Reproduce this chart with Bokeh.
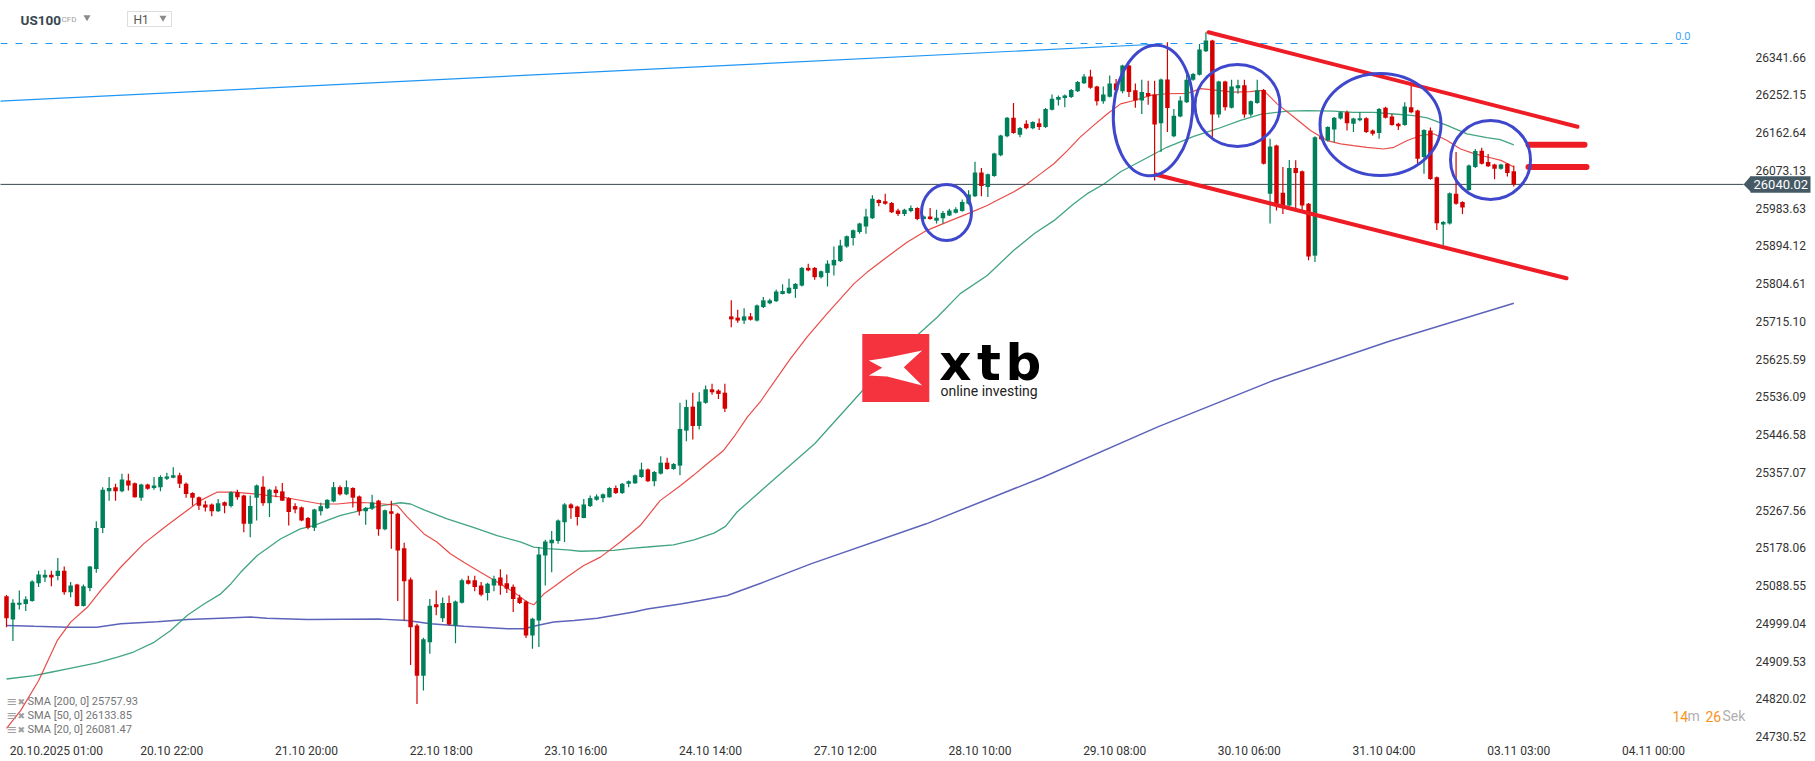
import numpy as np
from bokeh.plotting import figure
from bokeh.models import Range1d, FixedTicker, ColumnDataSource
from bokeh.core.properties import value
from bokeh.embed import file_html
from bokeh.resources import INLINE

# ---------------- data ----------------
opens = [25063,25008,25043,25045,25052,25094,25108,25114,25111,25124,
 25073,25091,25040,25083,25128,25225,25312,25322,25312,25338,
 25331,25297,25328,25320,25322,25342,25344,25350,25330,25308,
 25298,25281,25281,25265,25286,25277,25310,25302,25235,25297,
 25323,25284,25316,25312,25296,25277,25274,25249,25226,25265,
 25272,25288,25322,25305,25320,25300,25265,25271,25290,25222,
 25265,25259,25177,25103,24994,24875,24954,25044,25011,25047,
 24994,25048,25101,25101,25089,25071,25089,25108,25094,25086,
 25060,25051,24970,25006,25160,25189,25194,25239,25281,25276,
 25249,25277,25292,25296,25298,25320,25308,25330,25331,25346,
 25364,25336,25354,25380,25365,25373,25456,25513,25467,25522,
 25554,25551,25546,25727,25724,25717,25727,25717,25749,25758,
 25763,25780,25782,25792,25800,25842,25842,25820,25830,25848,
 25858,25893,25913,25927,25940,25960,26003,26000,25996,25978,
 25970,25977,25984,25958,25964,25954,25960,25966,25973,25977,
 25994,26012,26068,26034,26060,26109,26154,26198,26158,26184,
 26173,26185,26176,26217,26241,26245,26247,26261,26280,26296,
 26272,26237,26248,26279,26261,26322,26263,26239,26257,26253,
 26185,26289,26154,26201,26235,26288,26300,26356,26381,26206,
 26284,26222,26268,26275,26206,26233,26264,26018,26132,26020,
 25990,26079,26071,25994,25871,26154,26144,26170,26196,26211,
 26184,26192,26197,26168,26162,26222,26201,26184,26181,26223,
 26215,26105,26168,26057,25945,25947,26018,25998,26027,26081,
 26120,26093,26087,26077,26089,26071]
highs = [25066,25056,25077,25063,25101,25124,25126,25124,25154,25134,
 25097,25093,25091,25135,25241,25322,25346,25330,25354,25354,
 25333,25330,25330,25346,25350,25356,25369,25356,25333,25310,
 25300,25290,25283,25294,25288,25312,25316,25304,25302,25328,
 25348,25318,25324,25332,25298,25284,25276,25251,25271,25285,
 25293,25334,25326,25338,25322,25302,25275,25304,25292,25269,
 25290,25261,25190,25108,24998,24965,25057,25077,25060,25065,
 25053,25105,25112,25112,25097,25095,25112,25127,25115,25091,
 25067,25053,25012,25180,25197,25218,25245,25284,25284,25278,
 25294,25302,25305,25307,25322,25326,25332,25338,25352,25380,
 25366,25360,25395,25392,25379,25522,25529,25546,25547,25563,
 25567,25554,25567,25765,25743,25746,25735,25755,25773,25769,
 25791,25803,25816,25806,25844,25852,25844,25836,25860,25893,
 25909,25919,25933,25949,25982,26014,26005,26018,25998,25982,
 25982,25990,25986,25966,25984,25980,25977,25982,25986,26004,
 26026,26094,26079,26066,26115,26158,26200,26233,26176,26192,
 26190,26196,26221,26253,26251,26253,26266,26285,26302,26312,
 26274,26272,26298,26290,26324,26324,26279,26288,26286,26286,
 26291,26377,26219,26249,26310,26304,26373,26401,26383,26286,
 26286,26288,26288,26288,26239,26288,26266,26148,26134,26081,
 26098,26097,26073,25996,26154,26156,26178,26200,26213,26215,
 26198,26211,26199,26170,26221,26224,26207,26186,26235,26275,
 26217,26171,26175,26059,25953,26021,26117,26000,26087,26124,
 26127,26112,26089,26089,26091,26085]
lows = [24990,24957,25032,25028,25050,25085,25097,25087,25101,25067,
 25061,25039,25039,25075,25119,25213,25290,25290,25310,25314,
 25297,25290,25316,25316,25312,25339,25343,25320,25297,25278,
 25268,25264,25253,25263,25260,25274,25292,25215,25203,25243,
 25278,25251,25298,25289,25231,25260,25241,25222,25218,25255,
 25270,25286,25302,25303,25274,25255,25233,25268,25207,25220,
 25176,25052,25006,24900,24808,24840,24927,25018,25002,24994,
 24952,25046,25091,25075,25063,25053,25075,25067,25071,25026,
 25045,24964,24939,24943,25089,25120,25188,25192,25247,25231,
 25248,25275,25290,25286,25297,25306,25306,25322,25330,25344,
 25334,25324,25352,25363,25363,25350,25431,25435,25459,25520,
 25541,25531,25500,25701,25712,25709,25717,25715,25747,25756,
 25761,25779,25780,25771,25798,25834,25814,25817,25798,25824,
 25856,25890,25895,25923,25923,25958,25988,25992,25972,25965,
 25965,25974,25955,25956,25956,25947,25947,25965,25971,25975,
 25992,26010,26012,26010,26058,26107,26152,26160,26152,26171,
 26171,26169,26174,26215,26227,26223,26245,26259,26278,26267,
 26227,26231,26246,26261,26256,26247,26222,26207,26229,26049,
 26117,26164,26152,26199,26233,26286,26298,26354,26152,26198,
 26215,26220,26255,26198,26201,26231,26087,25947,25978,25970,
 25988,25982,25974,25860,25856,26144,26142,26140,26194,26168,
 26164,26190,26162,26156,26148,26196,26179,26169,26179,26209,
 26089,26065,26051,25932,25895,25945,25992,25970,26025,26079,
 26087,26081,26052,26075,26059,26035]
closes = [25011,25048,25048,25056,25098,25115,25114,25108,25124,25073,
 25089,25040,25087,25134,25225,25316,25320,25312,25340,25326,
 25298,25328,25318,25326,25346,25347,25350,25330,25306,25297,
 25278,25274,25265,25284,25278,25310,25298,25235,25277,25326,
 25284,25316,25308,25290,25263,25269,25243,25226,25269,25277,
 25292,25322,25305,25322,25297,25265,25273,25286,25222,25267,
 25259,25172,25099,24990,24875,24961,25041,25037,25047,24996,
 25051,25101,25093,25085,25067,25093,25105,25089,25081,25057,
 25047,24970,25010,25162,25193,25197,25243,25281,25272,25251,
 25281,25296,25300,25305,25320,25308,25330,25336,25350,25364,
 25336,25358,25380,25365,25377,25460,25512,25467,25525,25554,
 25547,25543,25508,25720,25717,25727,25719,25753,25765,25765,
 25786,25787,25795,25804,25842,25836,25820,25834,25852,25861,
 25895,25917,25931,25947,25964,26006,25996,25994,25974,25970,
 25980,25984,25958,25964,25958,25961,25972,25978,25981,25998,
 26016,26068,26036,26064,26113,26156,26198,26162,26174,26173,
 26188,26176,26219,26243,26247,26251,26264,26283,26296,26269,
 26237,26253,26279,26263,26322,26259,26239,26259,26249,26182,
 26289,26221,26203,26239,26288,26302,26360,26381,26206,26284,
 26223,26272,26275,26206,26237,26263,26089,26130,25994,25990,
 26079,26067,25990,25869,26152,26147,26176,26198,26211,26185,
 26196,26197,26164,26160,26219,26198,26181,26178,26225,26211,
 26101,26169,26053,25948,25951,26019,25994,25985,26085,26119,
 26089,26083,26077,26087,26067,26040.02]

# moving averages at sample bars (bar index, price)
sma20_pts = [(0,24750),(2.2,24792),(5,24863),(7.9,24958),(10,25002),(12.6,25037),(14.7,25077),
 (17.8,25132),(21.4,25188),(25,25231),(28.2,25267),(30.2,25290),(32.8,25310),(35.4,25310),
 (38.6,25306),(43.2,25298),(49,25282),(51.6,25282),(54.2,25286),(56.2,25285),(58.8,25282),
 (60.9,25279),(62.5,25251),(65.1,25211),(67.1,25192),(69.2,25164),(71.3,25144),(73.9,25120),
 (76.5,25097),(79.1,25073),(81.2,25049),(82.2,25043),(83.8,25069),(85.3,25085),(87.4,25109),
 (90,25136),(92.6,25156),(95.7,25192),(98.8,25231),(101.9,25290),(105.1,25326),(107.1,25350),
 (109.2,25377),(111.8,25409),(113.4,25441),(115.5,25488),(117.5,25524),(122.2,25626),
 (124.8,25678),(127.9,25733),(132.1,25804),(134.2,25832),(137.3,25868),(140.4,25903),
 (143.5,25931),(146.7,25951),(149.8,25970),(152.9,25990),(154.9,26006),(157,26022),
 (159.1,26041),(161.2,26065),(163.3,26089),(165.4,26120),(167.4,26152),(169.5,26180),
 (171.6,26207),(173.7,26231),(175.8,26239),(178.4,26251),(180.9,26255),(184.1,26256),
 (186.2,26267),(188.8,26263),(191.4,26259),(193.9,26260),(196,26263),(198.1,26231),
 (200.7,26200),(203.3,26168),(205.9,26144),(208,26136),(210,26132),(212.1,26128),
 (214.7,26124),(216.3,26128),(218.4,26144),(220.5,26156),(222.5,26160),(224.6,26144),
 (226.7,26124),(228.8,26113),(230.9,26105),(233,26097),(235,26081.47)]
sma50_pts = [(0,24867),(4.3,24875),(6.9,24883),(9.5,24891),(14.1,24905),(17.3,24919),(19.8,24931),
 (23,24954),(25.6,24982),(28.2,25018),(30.8,25045),(33.4,25069),(35,25093),(36.5,25120),
 (39.1,25160),(42.7,25199),(45.8,25223),(47.9,25231),(50,25243),(52.1,25255),(54.2,25263),
 (56.2,25271),(58.8,25279),(61.4,25285),(63,25282),(65.1,25268),(68.7,25247),(72.9,25226),
 (76.5,25207),(80.1,25192),(82.2,25180),(84.3,25176),(87.4,25173),(89.5,25170),(94.7,25172),
 (97.3,25177),(99.9,25180),(104,25185),(107.2,25197),(110.3,25213),(112.1,25229),(113.9,25263),
 (117.6,25313),(126,25425),(134,25560),(142,25682),(145.1,25725),(148.7,25781),(152.9,25824),
 (157,25883),(160.2,25923),(163.3,25954),(166.4,25994),(168.5,26018),(171.1,26041),
 (173.7,26070),(176.8,26095),(180.9,26128),(185.1,26154),(188.8,26172),(192.4,26192),
 (195.5,26206),(199.7,26214),(202.8,26215),(206.9,26214),(210,26211),(213.2,26211),
 (216.3,26207),(219.4,26203),(221.5,26198),(224.6,26180),(227.7,26160),(230.8,26151),
 (232.9,26146),(235,26133.85)]
sma200_pts = [(0,24994),(4.3,24992),(9.5,24990),(14.1,24990),(17.8,24998),(23.5,25003),(28.2,25008),
 (33.4,25011),(38.1,25014),(40.6,25011),(46.9,25008),(58.3,25009),(62.5,25006),(66.1,24998),
 (71.3,24992),(78.1,24986),(80.7,24986),(82.7,24994),(85.3,25002),(88.5,25006),(92.1,25011),
 (97.8,25026),(99.9,25033),(105.1,25045),(108.2,25053),(112.4,25065),(114.5,25077),(117.6,25094),
 (125.4,25140),(143.4,25235),(161.5,25345),(179.5,25465),(197.5,25575),(215.6,25668),(235,25757.93)]

x_tick_pos = [8, 26, 47, 68, 89, 110, 131, 152, 173, 194, 215, 236, 257]
x_tick_labels = ["20.10.2025  01:00", "20.10  22:00", "21.10  20:00", "22.10  18:00",
                 "23.10  16:00", "24.10  14:00", "27.10  12:00", "28.10  10:00",
                 "29.10  08:00", "30.10  06:00", "31.10  04:00", "03.11  03:00", "04.11  00:00"]
y_ticks = [24730.52, 24820.02, 24909.53, 24999.04, 25088.55, 25178.06, 25267.56, 25357.07,
           25446.58, 25536.09, 25625.59, 25715.10, 25804.61, 25894.12, 25983.63, 26073.13,
           26162.64, 26252.15, 26341.66]
last_price = 26040.02
legend_names = ["SMA [200,  0] 25757.93", "SMA [50,  0] 26133.85", "SMA [20,  0] 26081.47"]
fib_level_label = "0.0"

# ---------------- helpers: picture pixel -> data (for drawn annotations) ----------------
def jx(px):
    return (px - 6.0) / 6.414

def py(pix):
    return 26341.66 - (pix - 56.7) * 2.3716

FONT = "Roboto"
GREEN = "#00805a"
RED = "#d40000"
W, H, FH = 1815, 761, 742

p = figure(frame_width=W, frame_height=FH,
           x_range=Range1d(jx(0), jx(W)), y_range=Range1d(py(FH), py(0)),
           output_backend="svg", toolbar_location=None, y_axis_location=None,
           min_border_left=0, min_border_top=0, min_border_right=0, min_border_bottom=H - FH,
           background_fill_color="white", border_fill_color="white")
p.outline_line_color = None
p.xgrid.visible = False
p.ygrid.visible = False

ax = p.xaxis[0]
ax.axis_line_color = None
ax.major_tick_line_color = None
ax.minor_tick_line_color = None
ax.major_label_text_font = FONT
ax.major_label_text_font_size = "12px"
ax.major_label_text_color = "#333333"
ax.ticker = FixedTicker(ticks=x_tick_pos)
ax.major_label_overrides = {k: v for k, v in zip(x_tick_pos, x_tick_labels)}
ax.major_label_standoff = -5

# price scale labels (right side)
p.text(x=[jx(1755)] * len(y_ticks), y=y_ticks, text=[f"{v:.2f}" for v in y_ticks],
       text_baseline="middle", text_align="left", text_font=value(FONT), text_font_size="12px",
       text_color="#333333")

# fib / trend lines (blue)
p.line([jx(0), jx(1692)], [py(43), py(43)], line_color="#2196f3", line_width=1.2, line_dash="7 8")
p.line([jx(-5), jx(1160)], [py(100.9), py(43.5)], line_color="#2196f3", line_width=1.2)
p.text(x=[jx(1690)], y=[py(35)], text=[fib_level_label], text_align="right", text_baseline="middle",
       text_font=value(FONT), text_font_size="11px", text_color="#42a5f5")

# moving averages
for pts, col, w in ((sma200_pts, "#4a52b3", 1.5), (sma50_pts, "#2e9a72", 1.3), (sma20_pts, "#e53935", 1.2)):
    xs, ys = zip(*pts)
    p.line(list(xs), list(ys), line_color=col, line_width=w, line_alpha=0.9)

# current price line
p.line([jx(-5), jx(1743)], [last_price, last_price], line_color="#37474f", line_width=1)

# candles
idx = list(range(len(closes)))
cols = [GREEN if c >= o else RED for o, c in zip(opens, closes)]
tops = [max(o, c) for o, c in zip(opens, closes)]
bots = [min(o, c) for o, c in zip(opens, closes)]
tops = [t if t - b >= 2.4 else b + 2.4 for t, b in zip(tops, bots)]
src = ColumnDataSource(dict(x=idx, o=opens, h=highs, l=lows, c=closes, t=tops, b=bots, col=cols))
p.segment(x0="x", y0="l", x1="x", y1="h", line_color="col", line_width=1.2, source=src)
p.vbar(x="x", width=0.7, top="t", bottom="b", fill_color="col", line_color=None, source=src)

# red channel + markers
p.line([jx(1208), jx(1577)], [py(31.7), py(126.2)], line_color="#ee1c25", line_width=4, line_cap="round")
p.line([jx(1155), jx(1566)], [py(174), py(277.8)], line_color="#ee1c25", line_width=4, line_cap="round")
p.segment(x0=[jx(1528), jx(1528)], x1=[jx(1584), jx(1586)], y0=[26133.85, 26081.47], y1=[26133.85, 26081.47],
          line_color="#ee1c25", line_width=6, line_cap="round")

# blue ellipses
ell = [(946, 212, 50, 56, 0.0), (1152.5, 110, 79, 131, -0.08), (1237, 105, 85, 82, 0.0),
       (1380, 124, 121, 102, 0.0), (1490, 159.5, 80, 79, 0.0)]
p.ellipse(x=[jx(e[0]) for e in ell], y=[py(e[1]) for e in ell], width=[e[2] for e in ell],
          height=[e[3] for e in ell], angle=[e[4] for e in ell], width_units="screen",
          height_units="screen", fill_color=None, line_color="#3f48cc", line_width=3)

# xtb logo
p.rect(x=[jx(895.3)], y=[py(367.5)], width=67, height=68, width_units="screen", height_units="screen",
       fill_color="#f4333f", line_color=None)
xpoly = [(868.3, 360), (886.7, 357.3), (921.7, 350), (903.3, 366.7), (921.7, 385), (886.7, 376),
         (868.3, 375), (881.7, 367.3)]
p.patch([jx(a) for a, b in xpoly], [py(b) for a, b in xpoly], fill_color="white", line_color=None)
for ch, cx in (("x", 955), ("t", 988.5), ("b", 1023)):
    p.text(x=[jx(cx)], y=[py(362)], text=[ch], text_align="center", text_baseline="middle",
           text_font=value("DejaVu Sans"), text_font_style="bold", text_font_size="50px",
           text_color="#000000")
p.text(x=[jx(940)], y=[py(390.5)], text=["online investing"], text_align="left", text_baseline="middle",
       text_font=value(FONT), text_font_size="14px", text_color="#222222")

# header
p.text(x=[jx(20)], y=[py(19.3)], text=["US100"], text_baseline="middle", text_font=value(FONT),
       text_font_style="bold", text_font_size="13.5px", text_color="#37474f")
p.text(x=[jx(61)], y=[py(19.4)], text=["CFD"], text_baseline="middle", text_font=value(FONT),
       text_font_size="8px", text_color="#9e9e9e")
p.rect(x=[jx(149)], y=[py(18.5)], width=44, height=15, width_units="screen", height_units="screen",
       fill_color="white", line_color="#dddddd")
p.text(x=[jx(133)], y=[py(19.2)], text=["H1"], text_baseline="middle", text_font=value(FONT),
       text_font_size="12px", text_color="#555555")
p.scatter(x=[jx(86.5), jx(162.5)], y=[py(16.8), py(17.3)], marker="triangle", angle=np.pi, size=7,
          fill_color="#8a8a8a", line_color=None)

# legend rows (bottom-left)
for nm, yy in zip(legend_names, (701, 715, 729)):
    p.text(x=[jx(6)], y=[py(yy)], text=["\u2261"], text_baseline="middle", text_font=value("DejaVu Sans"),
           text_font_size="13px", text_color="#9e9e9e")
    p.text(x=[jx(17)], y=[py(yy)], text=["\u2716"], text_baseline="middle", text_font=value("DejaVu Sans"),
           text_font_size="9px", text_color="#9e9e9e")
    p.text(x=[jx(27)], y=[py(yy)], text=[nm], text_baseline="middle", text_font=value(FONT),
           text_font_size="11px", text_color="#757575")

# countdown
for t, xx, col in (("14", 1672, "#f7941d"), ("m", 1687, "#b0b0b0"), ("26", 1705, "#f7941d"),
                   ("Sek", 1722, "#b0b0b0")):
    p.text(x=[jx(xx)], y=[py(715.7)], text=[t], text_baseline="middle", text_align="left",
           text_font=value(FONT), text_font_size="14px", text_color=col)

# price box at right
p.patch([jx(1743), jx(1750.5), jx(1750.5)], [last_price, py(175.2), py(191.4)], fill_color="#455a64",
        line_color=None)
p.rect(x=[jx(1780)], y=[last_price], width=60, height=16.5, width_units="screen", height_units="screen",
       fill_color="#455a64", line_color=None)
p.text(x=[jx(1753)], y=[last_price], text=["26040.02"], text_baseline="middle", text_align="left",
       text_font=value(FONT), text_font_size="13px", text_color="white")

open("out.html", "w").write(file_html(p, INLINE))
